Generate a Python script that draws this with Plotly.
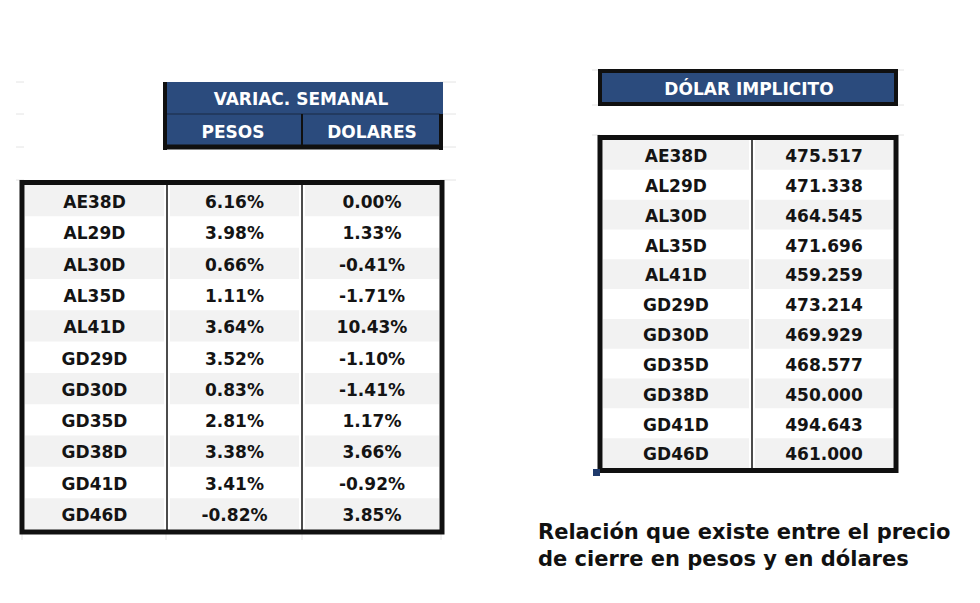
import plotly.graph_objects as go

# ==============================
# Data
# ==============================
bonds = ["AE38D", "AL29D", "AL30D", "AL35D", "AL41D", "GD29D",
         "GD30D", "GD35D", "GD38D", "GD41D", "GD46D"]
var_pesos = ["6.16%", "3.98%", "0.66%", "1.11%", "3.64%", "3.52%",
             "0.83%", "2.81%", "3.38%", "3.41%", "-0.82%"]
var_dolares = ["0.00%", "1.33%", "-0.41%", "-1.71%", "10.43%", "-1.10%",
               "-1.41%", "1.17%", "3.66%", "-0.92%", "3.85%"]
dolar_implicito = ["475.517", "471.338", "464.545", "471.696", "459.259", "473.214",
                   "469.929", "468.577", "450.000", "494.643", "461.000"]

header_left = "VARIAC. SEMANAL"
sub_headers = ["PESOS", "DOLARES"]
header_right = "DÓLAR IMPLICITO"
caption = ["Relación que existe entre el precio", "de cierre en pesos y en dólares"]

# ==============================
# Style
# ==============================
BLUE = "#2B4B7D"
GRAY = "#F2F2F2"
INK = "#141414"
FONT = "DejaVu Sans"
GRID = "#E4E4E4"
PAGE_OFF = 8   # default body margin of the html page
TXT_DY = 3     # text box sits a bit high, push caps to the row centre

fig = go.Figure()


def rect(x0, y0, x1, y1, fill=None, line=None, width=0):
    fig.add_shape(type="rect", xref="x", yref="y", x0=x0, y0=y0, x1=x1, y1=y1,
                  fillcolor=fill if fill else "rgba(0,0,0,0)",
                  line=dict(color=line if line else "rgba(0,0,0,0)", width=width),
                  layer="below")


def seg(x0, y0, x1, y1, color, width):
    fig.add_shape(type="line", xref="x", yref="y", x0=x0, y0=y0, x1=x1, y1=y1,
                  line=dict(color=color, width=width), layer="below")


def texts(xs, ys, labels, color=INK, size=17, family=FONT):
    fig.add_trace(go.Scatter(
        x=xs, y=[v + TXT_DY for v in ys], text=labels, mode="text", hoverinfo="skip",
        textposition="middle center",
        textfont=dict(family=family, size=size, color=color, weight="bold"),
        showlegend=False))


# ==============================
# Faint spreadsheet gridlines
# ==============================
for gy in [82, 114, 147, 180]:
    seg(16, gy, 24, gy, GRID, 1)
    seg(440, gy, 456, gy, GRID, 1)
for gx in [22, 166, 302, 441]:
    seg(gx, 533, gx, 540, GRID, 1)
for gy in [70, 105, 135]:
    seg(592, gy, 600, gy, GRID, 1)
    seg(895, gy, 904, gy, GRID, 1)

# ==============================
# Left table: header
# ==============================
lx0, lx1 = 163, 443
rect(lx0, 82, lx1, 149, fill=BLUE)
seg(lx0 + 2, 114, lx1 - 3, 114, "#1A2A45", 1.2)
seg(302, 114, 302, 148, "#101010", 2)
seg(lx0 + 2, 82, lx0 + 2, 150, "#101010", 4)
seg(lx0, 147, lx1, 147, "#101010", 5)
seg(lx1 - 2, 114, lx1 - 2, 150, "#101010", 4)
texts([301], [98], [header_left], color="white")
texts([233, 372], [131, 131], sub_headers, color="white")

# ==============================
# Left table: body
# ==============================
tx0, tx1 = 22, 442
ty0, ty1 = 182.5, 532
col_edges = [tx0, 167, 302, tx1]
n = len(bonds)
rh = (ty1 - ty0 - 5) / n
in0 = ty0 + 2.5
for i in range(n):
    if i % 2 == 0:
        y0 = in0 + i * rh
        for c in range(3):
            rect(col_edges[c] + 3, y0, col_edges[c + 1] - 3, y0 + rh, fill=GRAY)
for cx in col_edges[1:3]:
    seg(cx, ty0, cx, ty1, "#101010", 1.5)
rect(tx0, ty0, tx1, ty1, line="#101010", width=5)

row_y = [in0 + (i + 0.5) * rh for i in range(n)]
centers = [(col_edges[c] + col_edges[c + 1]) / 2 for c in range(3)]
texts([centers[0]] * n, row_y, bonds)
texts([centers[1]] * n, row_y, var_pesos)
texts([centers[2]] * n, row_y, var_dolares)

# ==============================
# Right table: header
# ==============================
rx0, rx1 = 600, 896
rect(rx0, 71, rx1, 104, fill=BLUE, line="#101010", width=4)
texts([749], [88], [header_right], color="white")

# ==============================
# Right table: body
# ==============================
by0, by1 = 137.5, 470.5
redges = [rx0, 752, rx1]
rrh = (by1 - by0 - 5) / n
rin0 = by0 + 2.5
for i in range(n):
    if i % 2 == 0:
        y0 = rin0 + i * rrh
        for c in range(2):
            rect(redges[c] + 3, y0, redges[c + 1] - 3, y0 + rrh, fill=GRAY)
seg(752, by0, 752, by1, "#101010", 1.5)
rect(rx0, by0, rx1, by1, line="#101010", width=5)
rect(593, 469, 600, 476, fill="#1F3A6B")

rrow_y = [rin0 + (i + 0.5) * rrh for i in range(n)]
rcenters = [(redges[c] + redges[c + 1]) / 2 for c in range(2)]
texts([rcenters[0]] * n, rrow_y, bonds)
texts([rcenters[1]] * n, rrow_y, dolar_implicito)

# ==============================
# Caption
# ==============================
for k, line in enumerate(caption):
    fig.add_annotation(x=536, y=532 + k * 27, xref="x", yref="y", text=line,
                       showarrow=False, xanchor="left", yanchor="middle",
                       font=dict(family="DejaVu Sans", size=21, color="#111111", weight="bold"))

# ==============================
# Layout
# ==============================
fig.update_layout(
    width=980, height=603,
    margin=dict(l=0, r=0, t=0, b=0),
    paper_bgcolor="white", plot_bgcolor="white",
    xaxis=dict(range=[PAGE_OFF, 980 + PAGE_OFF], visible=False, fixedrange=True),
    yaxis=dict(range=[603 + PAGE_OFF, PAGE_OFF], visible=False, fixedrange=True),
)

fig.write_html("out.html")
